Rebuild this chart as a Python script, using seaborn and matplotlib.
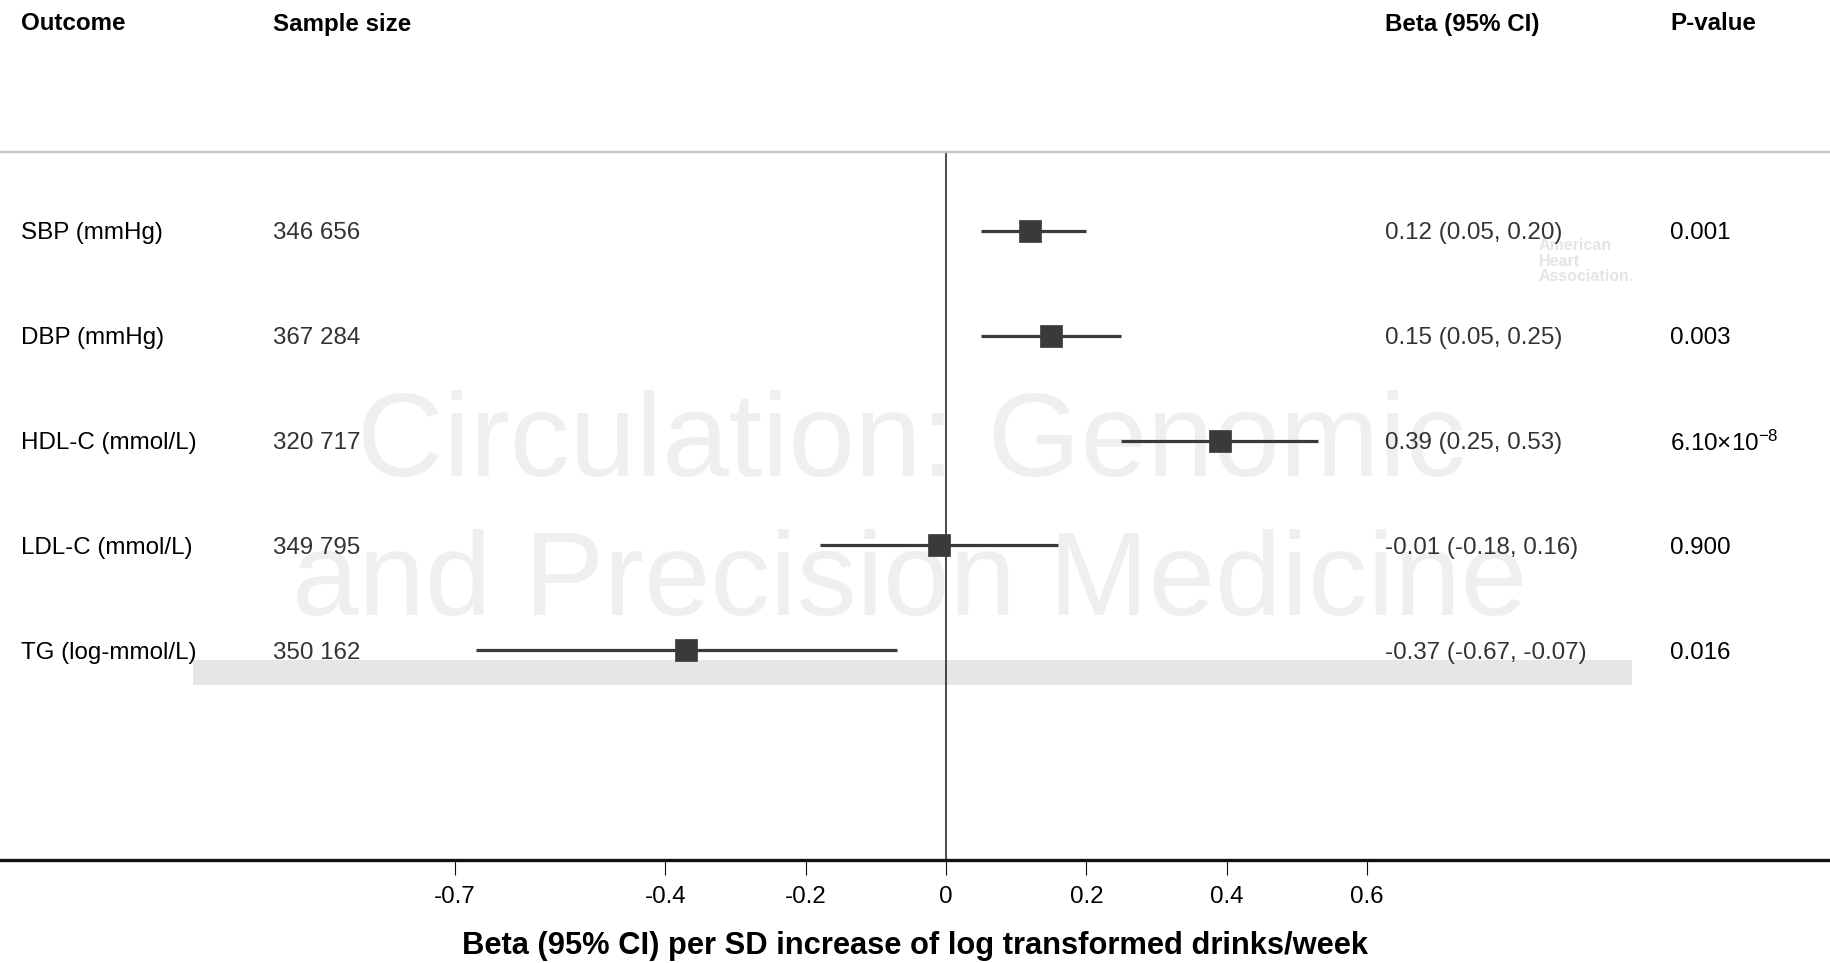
import matplotlib
matplotlib.use("Agg")
import matplotlib.pyplot as plt
from matplotlib.patches import Rectangle
import seaborn as sns
import pandas as pd

# Mendelian randomization estimates per outcome
outcomes = ["SBP (mmHg)", "DBP (mmHg)", "HDL-C (mmol/L)", "LDL-C (mmol/L)", "TG (log-mmol/L)"]
sample_sizes = ["346 656", "367 284", "320 717", "349 795", "350 162"]
beta = [0.12, 0.15, 0.39, -0.01, -0.37]
ci_low = [0.05, 0.05, 0.25, -0.18, -0.67]
ci_high = [0.20, 0.25, 0.53, 0.16, -0.07]
p_values = ["0.001", "0.003", "6.10×10$^{\\mathregular{-8}}$", "0.900", "0.016"]
x_ticks = [-0.7, -0.4, -0.2, 0, 0.2, 0.4, 0.6]
x_tick_labels = ["-0.7", "-0.4", "-0.2", "0", "0.2", "0.4", "0.6"]
headers = ["Outcome", "Sample size", "Beta (95% CI)", "P-value"]

df = pd.DataFrame({"outcome": outcomes, "beta": beta, "lo": ci_low, "hi": ci_high,
                   "row": range(len(outcomes))})

sns.set_theme(style="white")
plt.rcParams["font.family"] = ["Liberation Sans", "DejaVu Sans"]
plt.rcParams["axes.unicode_minus"] = False
plt.rcParams["mathtext.fontset"] = "custom"
plt.rcParams["mathtext.rm"] = "Liberation Sans"
plt.rcParams["mathtext.it"] = "Liberation Sans:italic"
plt.rcParams["mathtext.bf"] = "Liberation Sans:bold"

W, H = 1831, 963
fig = plt.figure(figsize=(W / 100, H / 100), dpi=100)
fig.patch.set_facecolor("white")

# journal watermark (figure level, beneath the plotting axes)
wm_color = "#efefef"
fig.text(911 / W, 1 - 476 / H, "Circulation: Genomic", fontsize=86, color=wm_color,
         ha="center", va="baseline", zorder=0)
fig.text(910 / W, 1 - 615 / H, "and Precision Medicine", fontsize=86, color=wm_color,
         ha="center", va="baseline", zorder=0)
for i, word in enumerate(["American", "Heart", "Association."]):
    fig.text(1539 / W, 1 - (246 + 15 * i) / H, word, fontsize=11.5, color="#e4e4e4",
             ha="left", va="center", fontweight="bold", zorder=0)

# shaded banner beneath the last row
fig.patches.append(Rectangle((193 / W, 1 - 685 / H), (1632 - 193) / W, 25 / H,
                             transform=fig.transFigure, facecolor="#e6e6e6",
                             edgecolor="none", zorder=0))

ax = fig.add_axes([0, (H - 860) / H, 1, (860 - 152) / H])
ax.set_zorder(2)
ax.set_facecolor("none")
ax.set_xlim(-946 / 702, (W - 946) / 702)
ax.set_ylim(6.0, -0.752)

# null line
ax.axvline(0, color="#1a1a1a", lw=1.1, zorder=1)

# confidence intervals and point estimates
mark = "#3a3a3a"
ax.hlines(df["row"], df["lo"], df["hi"], color=mark, lw=2.3, zorder=2)
sns.scatterplot(data=df, x="beta", y="row", marker="s", s=230, color=mark,
                edgecolor=mark, linewidth=0.5, ax=ax, zorder=3, legend=False)

# text columns
fs = 17.4
ytr = ax.get_yaxis_transform()
for i in range(len(outcomes)):
    ax.text(21 / W, i, outcomes[i], transform=ytr, fontsize=fs, color="black",
            ha="left", va="center_baseline")
    ax.text(273 / W, i, sample_sizes[i], transform=ytr, fontsize=fs, color="#333333",
            ha="left", va="center_baseline")
    ax.text(1385 / W, i, f"{beta[i]:.2f} ({ci_low[i]:.2f}, {ci_high[i]:.2f})",
            transform=ytr, fontsize=fs, color="#333333", ha="left", va="center_baseline")
    ax.text(1670 / W, i, p_values[i], transform=ytr, fontsize=fs, color="black",
            ha="left", va="center_baseline")

for hx, h in zip([21, 273, 1385, 1670], headers):
    fig.text(hx / W, 1 - 24 / H, h, fontsize=fs, fontweight="bold", color="black",
             ha="left", va="center")

# axes styling
for side in ["left", "right"]:
    ax.spines[side].set_visible(False)
ax.spines["top"].set_color("#c4c4c4")
ax.spines["top"].set_linewidth(1.6)
ax.spines["bottom"].set_color("#111111")
ax.spines["bottom"].set_linewidth(2.4)
ax.set_yticks([])
ax.set_ylabel("")
ax.set_xticks(x_ticks)
ax.set_xticklabels(x_tick_labels)
ax.tick_params(axis="x", direction="out", length=11, width=0.8, color="#111111",
               pad=8, labelsize=fs, labelcolor="black", bottom=True)
ax.set_xlabel("Beta (95% CI) per SD increase of log transformed drinks/week",
              fontsize=22.2, fontweight="bold", color="black", labelpad=16)

fig.savefig("out.png", dpi=100, facecolor="white")
